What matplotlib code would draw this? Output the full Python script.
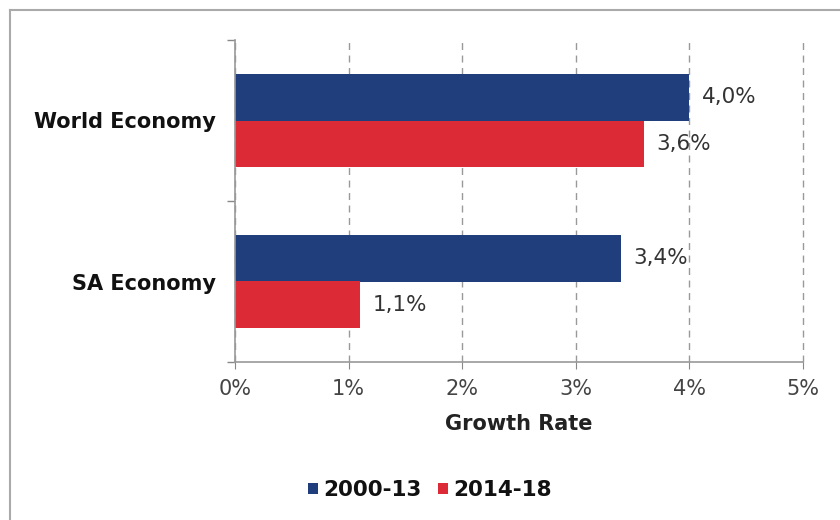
import matplotlib
matplotlib.use("Agg")
import matplotlib.pyplot as plt
from matplotlib.lines import Line2D
from matplotlib.ticker import FuncFormatter, FixedLocator
import numpy as np

categories = ["SA Economy", "World Economy"]
series_names = ["2000-13", "2014-18"]
values_2000_13 = [3.4, 4.0]
values_2014_18 = [1.1, 3.6]
value_labels_2000_13 = ["3,4%", "4,0%"]
value_labels_2014_18 = ["1,1%", "3,6%"]
x_ticks = [0, 1, 2, 3, 4, 5]

blue = "#203e7b"
red = "#dc2a36"

fig = plt.figure(figsize=(8.4, 5.2), dpi=100)
fig.patch.set_facecolor("white")
ax = fig.add_axes([235/840, 1-362/520, (803-235)/840, (362-40)/520])

y = np.arange(len(categories))
h = 0.29
b1 = ax.barh(y + h/2, values_2000_13, height=h, color=blue, label=series_names[0], zorder=2)
b2 = ax.barh(y - h/2, values_2014_18, height=h, color=red, label=series_names[1], zorder=2)

for rect, lab in zip(b1, value_labels_2000_13):
    ax.text(rect.get_width() + 0.11, rect.get_y() + rect.get_height()/2, lab,
            va="center", ha="left", fontsize=15.5, color="#333333", zorder=3)
for rect, lab in zip(b2, value_labels_2014_18):
    ax.text(rect.get_width() + 0.11, rect.get_y() + rect.get_height()/2, lab,
            va="center", ha="left", fontsize=15.5, color="#333333", zorder=3)

ax.set_xlim(0, 5)
ax.set_ylim(-0.5, 1.5)
ax.set_xticks(x_ticks)
ax.xaxis.set_major_formatter(FuncFormatter(lambda v, p: f"{int(v)}%"))
ax.grid(axis="x", linestyle=(0, (5, 4)), color="#999999", linewidth=1.0, zorder=0)
for gl in ax.get_xgridlines():
    gl.set_clip_on(False)
ax.set_axisbelow(True)

ax.set_yticks(y)
ax.set_yticklabels(categories, fontsize=15, fontweight="bold", color="#111111")
ax.yaxis.set_minor_locator(FixedLocator([-0.5, 0.5, 1.5]))
ax.tick_params(axis="y", which="major", length=0, pad=14)
ax.tick_params(axis="y", which="minor", length=6, color="#888888", width=1)
ax.tick_params(axis="x", length=5, color="#888888", labelsize=15, labelcolor="#444444", pad=7)

for s in ["top", "right"]:
    ax.spines[s].set_visible(False)
for s in ["left", "bottom"]:
    ax.spines[s].set_color("#999999")
    ax.spines[s].set_linewidth(1.2)

ax.set_xlabel("Growth Rate", fontsize=15, fontweight="bold", color="#222222", labelpad=11)

leg = fig.legend(handles=[b1, b2], labels=series_names, loc="center",
                 bbox_to_anchor=(430/840, 1-490/520), ncol=2, frameon=False,
                 prop={"weight": "bold", "size": 15.5}, handlelength=0.45, handleheight=0.45,
                 handletextpad=0.25, columnspacing=0.8)
for t in leg.get_texts():
    t.set_color("#111111")

fig.lines.append(Line2D([10/840, 10/840], [0, 1-10/520], transform=fig.transFigure,
                        color="#aaaaaa", linewidth=1.5))
fig.lines.append(Line2D([10/840, 1], [1-10/520, 1-10/520], transform=fig.transFigure,
                        color="#aaaaaa", linewidth=1.5))

fig.savefig("out.png", dpi=100, facecolor="white")
